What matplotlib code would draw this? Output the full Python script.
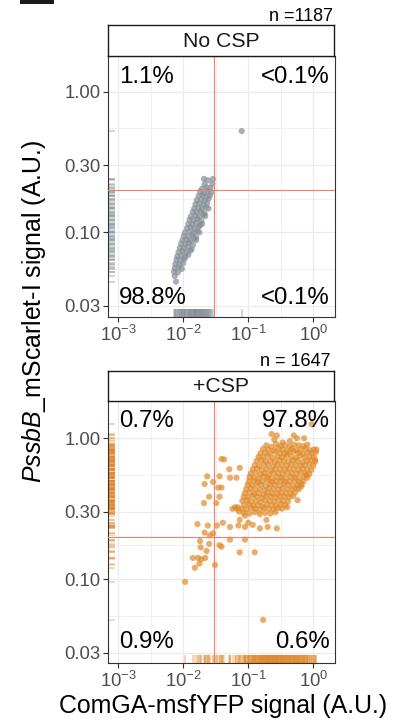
import matplotlib
matplotlib.use("Agg")
import matplotlib.pyplot as plt
import numpy as np
from matplotlib.collections import LineCollection
from matplotlib.patches import Rectangle
from matplotlib.ticker import FixedLocator, FixedFormatter, NullFormatter

plt.rcParams["font.family"] = ["Liberation Sans", "DejaVu Sans"]
plt.rcParams["mathtext.fontset"] = "custom"
plt.rcParams["mathtext.rm"] = "Liberation Sans"
plt.rcParams["mathtext.it"] = "Liberation Sans:italic"
plt.rcParams["mathtext.bf"] = "Liberation Sans:bold"

# gates
yfp_cut = 0.03
scarlet_cut = 0.2

x_ticks = [1e-3, 1e-2, 1e-1, 1.0]
x_ticklabels = [r"$10^{-3}$", r"$10^{-2}$", r"$10^{-1}$", r"$10^{0}$"]
y_ticks = [1.0, 0.3, 0.1, 0.03]
y_ticklabels = ["1.00", "0.30", "0.10", "0.03"]

panel_names = ["No CSP", "+CSP"]
n_labels = ["n =1187", "n = 1647"]
# quadrant percentages: upper-left, upper-right, lower-left, lower-right
pct_nocsp = ["1.1%", "<0.1%", "98.8%", "<0.1%"]
pct_csp = ["0.7%", "97.8%", "0.9%", "0.6%"]

# ---- No CSP cells, log10 values ----
nocsp_log_yfp = [
    -1.68, -1.62, -1.54,
    -1.67, -1.55,
    -1.71, -1.64, -1.58,
    -1.74, -1.68, -1.62, -1.57,
    -1.76, -1.70, -1.64, -1.59,
    -1.79, -1.72, -1.67, -1.61,
    -1.81, -1.75, -1.69, -1.63,
    -1.83, -1.77, -1.71, -1.65, -1.61,
    -1.85, -1.79, -1.73, -1.67,
    -1.88, -1.81, -1.75, -1.69, -1.66,
    -1.90, -1.84, -1.78, -1.72,
    -1.92, -1.86, -1.80, -1.74, -1.71,
    -1.94, -1.88, -1.82, -1.76,
    -1.97, -1.90, -1.84, -1.78, -1.75,
    -1.99, -1.92, -1.86, -1.80,
    -2.01, -1.95, -1.89, -1.83, -1.80,
    -2.03, -1.97, -1.91, -1.85,
    -2.05, -1.99, -1.93, -1.87,
    -2.07, -2.01, -1.95, -1.89,
    -2.09, -2.03, -1.97, -1.92,
    -2.10, -2.04, -1.98,
    -2.12, -2.06, -2.00,
    -2.13, -2.07, -2.02,
    -2.14, -2.08,
    -2.13,
    -2.11,
    -1.10,
]
nocsp_log_scarlet = [
    -0.62, -0.63, -0.62,
    -0.66, -0.655,
    -0.69, -0.68, -0.685,
    -0.71, -0.72, -0.705, -0.715,
    -0.74, -0.735, -0.745, -0.74,
    -0.77, -0.765, -0.775, -0.76,
    -0.80, -0.795, -0.805, -0.79,
    -0.83, -0.825, -0.835, -0.82, -0.83,
    -0.855, -0.86, -0.85, -0.865,
    -0.885, -0.88, -0.89, -0.875, -0.885,
    -0.91, -0.915, -0.905, -0.92,
    -0.94, -0.945, -0.935, -0.95, -0.94,
    -0.97, -0.965, -0.975, -0.96,
    -1.00, -0.995, -1.005, -0.99, -1.00,
    -1.025, -1.03, -1.02, -1.035,
    -1.055, -1.05, -1.06, -1.045, -1.055,
    -1.08, -1.085, -1.075, -1.09,
    -1.11, -1.115, -1.105, -1.12,
    -1.14, -1.135, -1.145, -1.13,
    -1.17, -1.165, -1.175, -1.16,
    -1.195, -1.20, -1.19,
    -1.225, -1.23, -1.22,
    -1.255, -1.25, -1.26,
    -1.28, -1.285,
    -1.31,
    -1.35,
    -0.28,
]

# ---- +CSP cells, log10 values ----
csp_log_yfp = [
    # dense cluster
    -0.60, -0.47, -0.36, -0.25,
    -0.72, -0.64, -0.57, -0.50, -0.43, -0.36, -0.29, -0.22, -0.15, -0.09,
    -0.77, -0.69, -0.61, -0.54, -0.47, -0.40, -0.33, -0.26, -0.19, -0.12, -0.05, 0.01,
    -0.81, -0.74, -0.66, -0.58, -0.51, -0.44, -0.37, -0.30, -0.23, -0.16, -0.09, -0.02, 0.04,
    -0.84, -0.77, -0.70, -0.62, -0.55, -0.48, -0.41, -0.34, -0.27, -0.20, -0.13, -0.06, 0.01,
    -0.87, -0.80, -0.73, -0.66, -0.59, -0.52, -0.45, -0.38, -0.31, -0.24, -0.17, -0.10, -0.03, 0.03,
    -0.90, -0.83, -0.76, -0.69, -0.62, -0.55, -0.48, -0.41, -0.34, -0.27, -0.20, -0.13, -0.06, 0.00,
    -0.93, -0.86, -0.79, -0.72, -0.65, -0.58, -0.51, -0.44, -0.37, -0.30, -0.23, -0.16, -0.09, -0.03,
    -0.96, -0.89, -0.82, -0.75, -0.68, -0.61, -0.54, -0.47, -0.40, -0.33, -0.26, -0.19, -0.12, -0.06,
    -0.98, -0.91, -0.84, -0.77, -0.70, -0.63, -0.56, -0.49, -0.42, -0.35, -0.28, -0.21, -0.14, -0.09,
    -0.99, -0.92, -0.85, -0.78, -0.71, -0.64, -0.57, -0.50, -0.43, -0.36, -0.29, -0.22, -0.15,
    -1.01, -0.94, -0.87, -0.80, -0.73, -0.66, -0.59, -0.52, -0.45, -0.38, -0.31, -0.24, -0.18,
    -1.03, -0.96, -0.89, -0.82, -0.75, -0.68, -0.61, -0.54, -0.47, -0.40, -0.33, -0.26, -0.22,
    -1.05, -0.98, -0.91, -0.84, -0.77, -0.70, -0.63, -0.56, -0.49, -0.42, -0.35, -0.28,
    -1.07, -1.00, -0.93, -0.86, -0.79, -0.72, -0.65, -0.58, -0.51, -0.44, -0.37, -0.31,
    -1.09, -1.02, -0.95, -0.88, -0.81, -0.74, -0.67, -0.60, -0.53, -0.46, -0.39,
    -1.06, -0.99, -0.92, -0.85, -0.78, -0.71, -0.64, -0.57, -0.50, -0.43,
    -1.10, -1.03, -0.96, -0.89, -0.82, -0.75, -0.68, -0.61, -0.54, -0.48,
    -1.07, -0.98, -0.90, -0.82, -0.74, -0.66, -0.58,
    # edges of the cluster
    -0.025, -0.64, -0.56, -0.30, -0.14, 0.05, 0.03, -0.10, -0.18, -0.24, -0.40,
    -0.93, -0.82, -0.70, -0.56, -1.05, -1.13, -0.72, -1.20, -1.05,
    # scattered cells
    -1.41, -1.37, -1.29, -1.13, -1.63, -1.44, -1.28, -1.18, -1.67, -1.54,
    -1.46, -1.41, -1.60, -1.44, -1.68, -1.49, -1.18, -1.14, -1.78, -1.62,
    -1.48, -1.39, -1.28, -1.15, -1.00, -1.67, -1.59, -1.54, -1.24, -1.16,
    -1.28, -1.05, -1.74, -1.60, -1.44, -1.41, -1.73, -1.64, -1.13, -0.90,
    -1.85, -1.77, -1.72, -1.66, -1.82, -1.75, -1.51, -1.97, -0.77,
]
csp_log_scarlet = [
    -0.01, -0.03, -0.02, 0.00,
    -0.05, -0.06, -0.04, -0.055, -0.05, -0.06, -0.045, -0.05, -0.055, -0.045,
    -0.075, -0.08, -0.085, -0.07, -0.08, -0.09, -0.075, -0.085, -0.08, -0.07, -0.085, -0.08,
    -0.105, -0.10, -0.11, -0.095, -0.105, -0.11, -0.10, -0.095, -0.105, -0.11, -0.10, -0.105, -0.10,
    -0.13, -0.135, -0.125, -0.14, -0.13, -0.135, -0.125, -0.13, -0.14, -0.125, -0.135, -0.13, -0.135,
    -0.16, -0.155, -0.165, -0.16, -0.17, -0.155, -0.16, -0.165, -0.155, -0.16, -0.17, -0.16, -0.155, -0.165,
    -0.19, -0.195, -0.185, -0.19, -0.20, -0.185, -0.19, -0.195, -0.185, -0.19, -0.195, -0.19, -0.185, -0.195,
    -0.22, -0.215, -0.225, -0.22, -0.23, -0.215, -0.22, -0.225, -0.215, -0.22, -0.225, -0.215, -0.22, -0.225,
    -0.25, -0.245, -0.255, -0.25, -0.26, -0.245, -0.25, -0.255, -0.245, -0.25, -0.255, -0.245, -0.25, -0.255,
    -0.275, -0.28, -0.285, -0.27, -0.28, -0.285, -0.275, -0.28, -0.285, -0.275, -0.28, -0.285, -0.275, -0.28,
    -0.305, -0.30, -0.31, -0.305, -0.30, -0.31, -0.305, -0.30, -0.31, -0.305, -0.30, -0.31, -0.305,
    -0.33, -0.335, -0.325, -0.33, -0.34, -0.325, -0.33, -0.335, -0.325, -0.33, -0.34, -0.33, -0.325,
    -0.36, -0.355, -0.365, -0.36, -0.37, -0.355, -0.36, -0.365, -0.355, -0.36, -0.365, -0.355, -0.36,
    -0.39, -0.385, -0.395, -0.39, -0.40, -0.385, -0.39, -0.395, -0.385, -0.39, -0.395, -0.385,
    -0.415, -0.42, -0.41, -0.415, -0.425, -0.41, -0.415, -0.42, -0.41, -0.415, -0.42, -0.41,
    -0.445, -0.44, -0.45, -0.445, -0.455, -0.44, -0.445, -0.45, -0.44, -0.445, -0.45,
    -0.475, -0.47, -0.48, -0.475, -0.485, -0.47, -0.475, -0.48, -0.47, -0.475,
    -0.50, -0.505, -0.495, -0.50, -0.51, -0.495, -0.50, -0.505, -0.495, -0.50,
    -0.53, -0.535, -0.525, -0.54, -0.53, -0.535, -0.525,
    0.10, 0.03, 0.02, 0.02, 0.00, -0.08, -0.155, -0.26, -0.34, -0.44, -0.49,
    -0.615, -0.64, -0.63, -0.64, -0.63, -0.58, -0.58, -0.49, -0.55,
    -0.147, -0.15, -0.22, -0.21, -0.27, -0.27, -0.28, -0.28, -0.325, -0.31,
    -0.35, -0.35, -0.415, -0.415, -0.46, -0.46, -0.50, -0.52, -0.61, -0.62,
    -0.62, -0.60, -0.63, -0.62, -0.60, -0.67, -0.69, -0.675, -0.50, -0.49,
    -0.72, -0.72, -0.73, -0.75, -0.76, -0.77, -0.775, -0.80, -0.81, -0.81,
    -0.85, -0.85, -0.86, -0.85, -0.92, -0.89, -0.90, -1.02, -1.29,
]

gray = "#858E97"
orange = "#E08A2A"
gate_color = "#F37F66"
grid_color = "#EBEBEB"
edge_color = "#333333"

W, H = 403, 725
fig = plt.figure(figsize=(W / 100, H / 100), dpi=100)


def fx(px):
    return px / W


def fy(py):
    return 1 - py / H


def draw_panel(ax, sax, log_x, log_y, color, name, pct, ylim, rug_alpha, pct_y):
    x = 10.0 ** np.array(log_x)
    y = 10.0 ** np.array(log_y)
    ax.set_xscale("log")
    ax.set_yscale("log")
    ax.set_xlim(7e-4, 2.16)
    ax.set_ylim(*ylim)

    # grid: majors at ticks, minors halfway in log space
    for v in x_ticks:
        ax.axvline(v, color=grid_color, lw=0.9, zorder=0)
    for v in [10 ** -2.5, 10 ** -1.5, 10 ** -0.5]:
        ax.axvline(v, color=grid_color, lw=0.5, zorder=0)
    for v in y_ticks:
        ax.axhline(v, color=grid_color, lw=0.9, zorder=0)
    for v in [10 ** -0.261, 10 ** -0.761, 10 ** -1.261]:
        ax.axhline(v, color=grid_color, lw=0.5, zorder=0)

    # rugs
    bottom = LineCollection([[(v, 0), (v, 0.03)] for v in x],
                            transform=ax.get_xaxis_transform(),
                            colors=color, alpha=rug_alpha, lw=1.5, zorder=1)
    left = LineCollection([[(0, v), (0.03, v)] for v in y],
                          transform=ax.get_yaxis_transform(),
                          colors=color, alpha=rug_alpha, lw=1.5, zorder=1)
    ax.add_collection(bottom)
    ax.add_collection(left)

    ax.scatter(x, y, s=20, color=color, alpha=0.7, edgecolors="none", zorder=2)

    ax.axvline(yfp_cut, color=gate_color, lw=0.8, zorder=3)
    ax.axhline(scarlet_cut, color=gate_color, lw=0.8, zorder=3)

    ax.xaxis.set_major_locator(FixedLocator(x_ticks))
    ax.xaxis.set_major_formatter(FixedFormatter(x_ticklabels))
    ax.yaxis.set_major_locator(FixedLocator(y_ticks))
    ax.yaxis.set_major_formatter(FixedFormatter(y_ticklabels))
    ax.xaxis.set_minor_locator(FixedLocator([]))
    ax.yaxis.set_minor_locator(FixedLocator([]))
    ax.xaxis.set_minor_formatter(NullFormatter())
    ax.yaxis.set_minor_formatter(NullFormatter())
    ax.tick_params(direction="out", length=3.5, width=0.8, color=edge_color,
                   labelsize=13.3, labelcolor="#4D4D4D", pad=2)
    for sp in ax.spines.values():
        sp.set_color(edge_color)
        sp.set_linewidth(0.8)

    kw = dict(transform=ax.transAxes, fontsize=17.3, color="black", va="baseline", zorder=4)
    ax.text(0.05, pct_y[0], pct[0], ha="left", **kw)
    ax.text(0.978, pct_y[0], pct[1], ha="right", **kw)
    ax.text(0.05, pct_y[1], pct[2], ha="left", **kw)
    ax.text(0.978, pct_y[1], pct[3], ha="right", **kw)

    sax.set_xticks([])
    sax.set_yticks([])
    for sp in sax.spines.values():
        sp.set_color("#1A1A1A")
        sp.set_linewidth(1.0)
    sax.text(0.5, 0.47, name, transform=sax.transAxes, ha="center", va="center",
             fontsize=15.3, color="#1A1A1A")


ax1 = fig.add_axes([fx(108), fy(317), fx(227), 261 / H])
s1 = fig.add_axes([fx(108), fy(56), fx(226), 31 / H])
ax2 = fig.add_axes([fx(108), fy(663.3), fx(227), 262.6 / H])
s2 = fig.add_axes([fx(108), fy(400.7), fx(226), 30 / H])

draw_panel(ax1, s1, nocsp_log_yfp, nocsp_log_scarlet, gray, panel_names[0],
           pct_nocsp, (0.025, 1.795), 0.35, (0.895, 0.051))
draw_panel(ax2, s2, csp_log_yfp, csp_log_scarlet, orange, panel_names[1],
           pct_csp, (0.0252, 1.85), 0.3, (0.901, 0.057))

fig.text(fx(333), fy(20.7), n_labels[0], ha="right", va="baseline", fontsize=13)
fig.text(fx(331), fy(366), n_labels[1], ha="right", va="baseline", fontsize=13)

fig.text(fx(223), fy(713), "ComGA-msfYFP signal (A.U.)", ha="center",
         va="baseline", fontsize=17.9)
fig.text(fx(34.5), fy(311), r"$\mathit{PssbB}$_mScarlet-I signal (A.U.)",
         rotation=90, ha="center", va="center", fontsize=17.9)

# partial panel letter box at the top-left corner
fig.add_artist(Rectangle((fx(20), fy(4)), fx(34), 4 / H, transform=fig.transFigure,
                         facecolor="#1A1A1A", edgecolor="none"))

fig.savefig("out.png", dpi=100)
